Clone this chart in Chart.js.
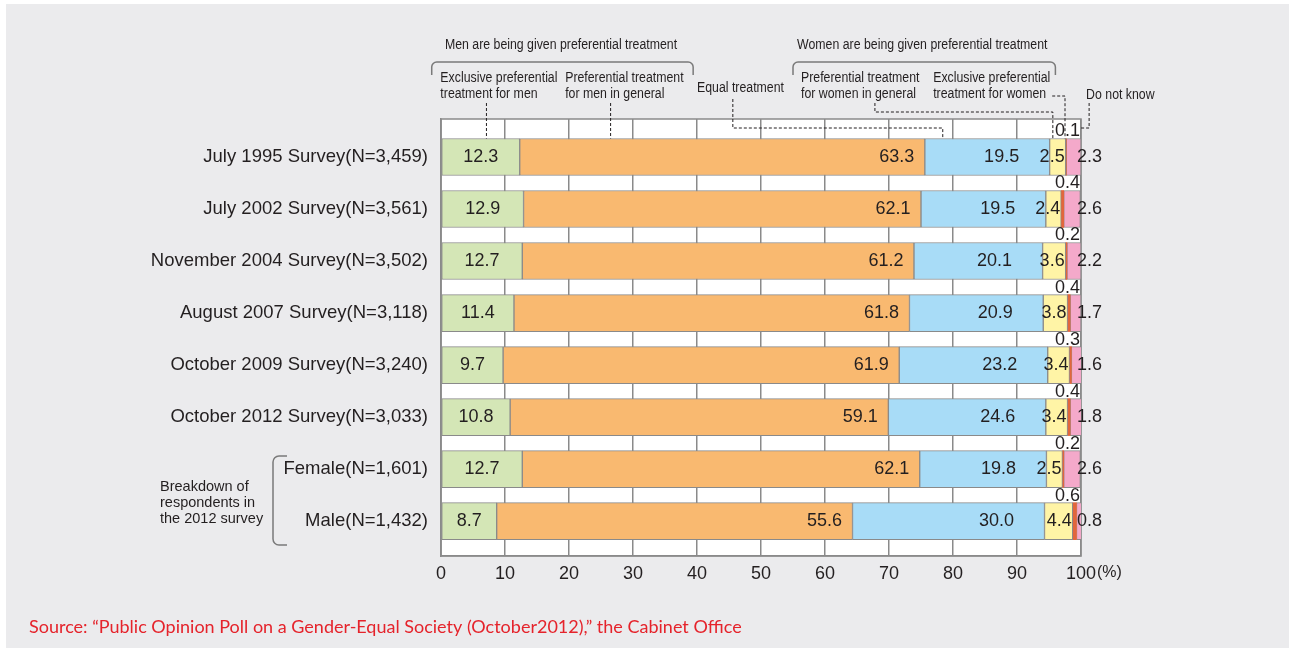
<!DOCTYPE html>
<html><head><meta charset="utf-8">
<script src="https://cdn.jsdelivr.net/npm/chart.js@4"></script>
<style>html,body{margin:0;padding:0;background:#fff}canvas{display:block}</style>
</head><body>
<canvas id="c" width="1289" height="648"></canvas>
<script>
const categories = ["July 1995 Survey(N=3,459)", "July 2002 Survey(N=3,561)", "November 2004 Survey(N=3,502)", "August 2007 Survey(N=3,118)", "October 2009 Survey(N=3,240)", "October 2012 Survey(N=3,033)", "Female(N=1,601)", "Male(N=1,432)"];
const exclusiveMen      = [12.3, 12.9, 12.7, 11.4, 9.7, 10.8, 12.7, 8.7];
const preferentialMen   = [63.3, 62.1, 61.2, 61.8, 61.9, 59.1, 62.1, 55.6];
const equalTreatment    = [19.5, 19.5, 20.1, 20.9, 23.2, 24.6, 19.8, 30.0];
const preferentialWomen = [2.5, 2.4, 3.6, 3.8, 3.4, 3.4, 2.5, 4.4];
const exclusiveWomen    = [0.1, 0.4, 0.2, 0.4, 0.3, 0.4, 0.2, 0.6];
const doNotKnow         = [2.3, 2.6, 2.2, 1.7, 1.6, 1.8, 2.6, 0.8];
const xTickValues = [0, 10, 20, 30, 40, 50, 60, 70, 80, 90, 100];
const seriesNames = ["Exclusive preferential treatment for men", "Preferential treatment for men in general", "Equal treatment", "Preferential treatment for women in general", "Exclusive preferential treatment for women", "Do not know"];
const seriesValues = [exclusiveMen, preferentialMen, equalTreatment, preferentialWomen, exclusiveWomen, doNotKnow];
const seriesColors = ["#d4e6b6", "#f9b970", "#a8dcf7", "#fff4a6", "#e2663c", "#f4a9ca"];

const TXT = '#231f20';
const FONT = '"Liberation Sans", Arial, Helvetica, sans-serif';

const bgPlugin = {
  id: 'bg',
  beforeDraw(chart) {
    const ctx = chart.ctx, a = chart.chartArea;
    ctx.save();
    ctx.fillStyle = '#ffffff';
    ctx.fillRect(0, 0, chart.width, chart.height);
    ctx.fillStyle = '#ebebed';
    ctx.fillRect(6, 4, chart.width - 6, chart.height - 4);
    ctx.fillStyle = '#ffffff';
    ctx.fillRect(a.left, a.top, a.right - a.left, a.bottom - a.top);
    ctx.restore();
  },
  beforeDatasetsDraw(chart) {
    const ctx = chart.ctx, a = chart.chartArea;
    ctx.save();
    ctx.strokeStyle = '#8a8a8a';
    ctx.lineWidth = 1.5;
    ctx.strokeRect(a.left, a.top, a.right - a.left, a.bottom - a.top);
    ctx.restore();
  }
};

const labelPlugin = {
  id: 'labels',
  afterDatasetsDraw(chart) {
    const ctx = chart.ctx, a = chart.chartArea;
    ctx.save();
    ctx.font = '18px ' + FONT;
    ctx.fillStyle = TXT;
    ctx.textBaseline = 'middle';
    chart.data.datasets.forEach((ds, di) => {
      const meta = chart.getDatasetMeta(di);
      meta.data.forEach((bar, i) => {
        const p = bar.getProps(['x', 'y', 'base', 'height'], true);
        const start = Math.min(p.base, p.x), end = Math.max(p.base, p.x);
        const top = p.y - p.height / 2;
        const txt = ds.data[i].x.toFixed(1);
        let x, y = p.y, align = 'center';
        if (di === 0) { x = (start + end) / 2; }
        else if (di === 1) { x = end - 28; }
        else if (di === 2) { x = end - 48; }
        else if (di === 3) { x = end - 1; align = 'right'; }
        else if (di === 4) { x = a.right - 1; align = 'right'; y = top - 7; }
        else { x = a.right - 4; align = 'left'; }
        ctx.textAlign = align;
        ctx.fillText(txt, x, y);
      });
    });
    ctx.restore();
  }
};

const annoPlugin = {
  id: 'anno',
  afterDraw(chart) {
    const ctx = chart.ctx, a = chart.chartArea, xs = chart.scales.x;
    const X = v => xs.getPixelForValue(v);
    const first = chart.getDatasetMeta(0).data[0].getProps(['y', 'height'], true);
    const barTop = first.y - first.height / 2;
    ctx.save();
    const ntext = (s, x, y, align) => {
      ctx.save();
      ctx.font = '14px ' + FONT;
      ctx.fillStyle = TXT;
      ctx.textBaseline = 'middle';
      ctx.textAlign = align || 'left';
      ctx.translate(x, y);
      ctx.scale(0.88, 1);
      ctx.fillText(s, 0, 0);
      ctx.restore();
    };
    ntext('Men are being given preferential treatment', X(18.75), 45, 'center');
    ntext('Women are being given preferential treatment', X(75.2), 45, 'center');
    ntext('Exclusive preferential', X(-0.1), 78);
    ntext('treatment for men', X(-0.1), 94);
    ntext('Preferential treatment', X(19.4), 78);
    ntext('for men in general', X(19.4), 94);
    ntext('Equal treatment', X(40.0), 88);
    ntext('Preferential treatment', X(56.25), 78);
    ntext('for women in general', X(56.25), 94);
    ntext('Exclusive preferential', X(76.9), 78);
    ntext('treatment for women', X(76.9), 94);
    ntext('Do not know', X(100.8), 95);

    ctx.strokeStyle = '#7a7a7a';
    ctx.lineWidth = 1.5;
    const topBracket = (x1, x2, yt, yb, r) => {
      ctx.beginPath();
      ctx.moveTo(x1, yb);
      ctx.lineTo(x1, yt + r);
      ctx.arcTo(x1, yt, x1 + r, yt, r);
      ctx.lineTo(x2 - r, yt);
      ctx.arcTo(x2, yt, x2, yt + r, r);
      ctx.lineTo(x2, yb);
      ctx.stroke();
    };
    topBracket(X(-1.45), X(39.4), 62, 75, 5);
    topBracket(X(55.0), X(96.0), 62, 75, 5);
    const lx = 273, rx = 287, yt = 456, yb = 545, r = 6;
    ctx.beginPath();
    ctx.moveTo(rx, yt);
    ctx.lineTo(lx + r, yt);
    ctx.arcTo(lx, yt, lx, yt + r, r);
    ctx.lineTo(lx, yb - r);
    ctx.arcTo(lx, yb, lx + r, yb, r);
    ctx.lineTo(rx, yb);
    ctx.stroke();

    ctx.strokeStyle = '#231f20';
    ctx.lineWidth = 1;
    ctx.setLineDash([3, 2]);
    const poly = pts => {
      ctx.beginPath();
      ctx.moveTo(pts[0][0], pts[0][1]);
      for (let k = 1; k < pts.length; k++) ctx.lineTo(pts[k][0], pts[k][1]);
      ctx.stroke();
    };
    poly([[X(7.1), 103], [X(7.1), barTop]]);
    poly([[X(26.5), 103], [X(26.5), barTop]]);
    poly([[X(45.6), 99], [X(45.6), 128], [X(78.4), 128], [X(78.4), barTop]]);
    poly([[X(67.8), 103], [X(67.8), 112], [X(95.6), 112], [X(95.6), barTop]]);
    poly([[X(95.5), 96], [X(97.5), 96], [X(97.5), barTop]]);
    poly([[X(100.8) + 3, 103], [X(100.8) + 3, 128], [a.right, 128]]);
    ctx.setLineDash([]);

    ctx.font = '14.5px ' + FONT;
    ctx.fillStyle = TXT;
    ctx.textAlign = 'left';
    ctx.textBaseline = 'middle';
    ctx.fillText('Breakdown of', 160, 487);
    ctx.fillText('respondents in', 160, 503);
    ctx.fillText('the 2012 survey', 160, 519);

    ctx.font = '16px ' + FONT;
    ctx.fillText('(%)', X(100) + 16, 573);

    ctx.font = '18px Lato, "Open Sans", sans-serif';
    ctx.fillStyle = '#e5232b';
    ctx.fillText('Source: \u201cPublic Opinion Poll on a Gender-Equal Society (October2012),\u201d the Cabinet Office', 29, 627);
    ctx.restore();
  }
};

const datasets = seriesNames.map((name, k) => ({
  label: name,
  data: seriesValues[k].map((v, i) => ({ x: v, y: i })),
  backgroundColor: seriesColors[k],
  borderColor: '#8a8a8a',
  borderWidth: k === 4 ? 0 : 1,
  borderSkipped: false,
  barThickness: 37
}));

new Chart(document.getElementById('c'), {
  type: 'bar',
  data: { datasets },
  options: {
    indexAxis: 'y',
    responsive: false,
    devicePixelRatio: 1,
    animation: false,
    layout: { padding: { left: 0, right: 208, top: 119, bottom: 0 } },
    plugins: { legend: { display: false }, tooltip: { enabled: false } },
    scales: {
      x: {
        type: 'linear', stacked: true, min: 0, max: 100, position: 'bottom',
        afterBuildTicks: s => { s.ticks = xTickValues.map(v => ({ value: v })); },
        afterFit: s => { s.height = 92; },
        grid: { display: true, color: '#8a8a8a', lineWidth: 1.5, drawTicks: false },
        border: { display: true, color: '#8a8a8a', width: 1.5 },
        ticks: { padding: 7, color: TXT, font: { size: 18, family: FONT }, maxRotation: 0 }
      },
      y: {
        type: 'linear', stacked: true, reverse: true, min: -0.73, max: 7.67, bounds: 'data', offset: false,
        afterBuildTicks: s => { s.ticks = categories.map((c, i) => ({ value: i })); },
        afterFit: s => { s.width = 441; },
        grid: { display: false, drawTicks: false, offset: false },
        border: { display: true, color: '#8a8a8a', width: 1.5 },
        ticks: { padding: 13, color: TXT, autoSkip: false, font: { size: 18.5, family: FONT },
                 callback: v => categories[v] }
      }
    }
  },
  plugins: [bgPlugin, labelPlugin, annoPlugin]
});
</script>
</body></html>
